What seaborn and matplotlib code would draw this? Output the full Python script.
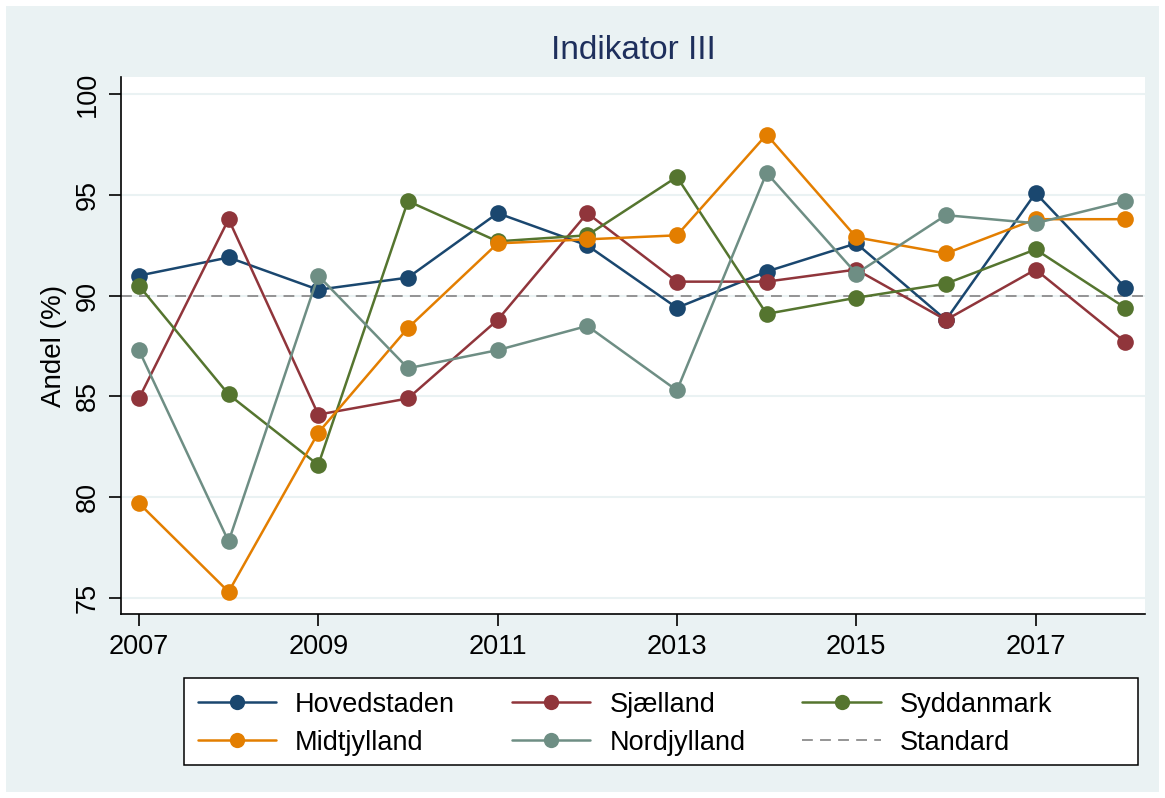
import numpy as np
import pandas as pd
import seaborn as sns
import matplotlib.pyplot as plt
from matplotlib.patches import Rectangle
from matplotlib.lines import Line2D

years = list(range(2007, 2019))
hovedstaden = [91.0, 91.9, 90.3, 90.9, 94.1, 92.5, 89.4, 91.2, 92.6, 88.8, 95.1, 90.4]
sjaelland = [84.9, 93.8, 84.1, 84.9, 88.8, 94.1, 90.7, 90.7, 91.3, 88.8, 91.3, 87.7]
syddanmark = [90.5, 85.1, 81.6, 94.7, 92.7, 93.0, 95.9, 89.1, 89.9, 90.6, 92.3, 89.4]
midtjylland = [79.7, 75.3, 83.2, 88.4, 92.6, 92.8, 93.0, 98.0, 92.9, 92.1, 93.8, 93.8]
nordjylland = [87.3, 77.8, 91.0, 86.4, 87.3, 88.5, 85.3, 96.1, 91.1, 94.0, 93.6, 94.7]
standard = 90

regions = ["Hovedstaden", "Sjælland", "Syddanmark", "Midtjylland", "Nordjylland"]
colors = ["#1a476f", "#90353b", "#55752f", "#e37e00", "#6e8e84"]

df = pd.DataFrame({
    "aar": years * 5,
    "andel": hovedstaden + sjaelland + syddanmark + midtjylland + nordjylland,
    "region": [r for r in regions for _ in years],
})

sns.set_style("white")
plt.rcParams["font.family"] = ["Liberation Sans", "DejaVu Sans"]
plt.rcParams["text.color"] = "black"
plt.rcParams["xtick.color"] = "black"
plt.rcParams["ytick.color"] = "black"
plt.rcParams["axes.labelcolor"] = "black"

fig = plt.figure(figsize=(11.65, 7.98), dpi=100, facecolor="white")
# Stata-like outer background
fig.patches.append(Rectangle((6 / 1165, 6 / 798), 1 - 12 / 1165, 1 - 12 / 798,
                             transform=fig.transFigure, facecolor="#eaf2f3",
                             edgecolor="none", zorder=-10))
# legend box, drawn separately so it can be wider than the entries
fig.patches.append(Rectangle((184 / 1165, 1 - 765 / 798), 954 / 1165, 87 / 798,
                             transform=fig.transFigure, facecolor="white",
                             edgecolor="black", linewidth=1.1, zorder=-5))
ax = fig.add_axes([121 / 1165, 1 - 614 / 798, (1145 - 121) / 1165, (614 - 77) / 798])
ax.set_facecolor("white")

sns.lineplot(data=df, x="aar", y="andel", hue="region", hue_order=regions,
             palette=colors, marker="o", markersize=12, markeredgewidth=0,
             linewidth=1.8, ax=ax, legend=False)
ax.axhline(standard, color="#8c8c8c", linestyle=(0, (6, 4)), linewidth=1.3, zorder=1.5)

ax.set_xlim(2006.8, 2018.22)
ax.set_ylim(74.2, 100.86)
ax.set_xticks(range(2007, 2019, 2))
ax.set_yticks(range(75, 101, 5))
ax.grid(axis="y", color="#eaf2f3", linewidth=1.5)
ax.set_axisbelow(True)
for s in ["top", "right"]:
    ax.spines[s].set_visible(False)
for s in ["left", "bottom"]:
    ax.spines[s].set_color("black")
    ax.spines[s].set_linewidth(1.2)
ax.tick_params(axis="both", direction="out", length=8.5, width=1.2, color="black",
               labelsize=19.5, pad=6, left=True, bottom=True)
plt.setp(ax.get_yticklabels(), rotation=90, va="center")
ax.set_xlabel("")
ax.set_ylabel("Andel (%)", fontsize=20, labelpad=6)
ax.set_title("Indikator III", fontsize=24, color="#1e2f5c", pad=13)

handles = [Line2D([], [], color=c, marker="o", markersize=11, markeredgewidth=0, linewidth=1.8)
           for c in colors]
std_handle = Line2D([], [], color="#8c8c8c", linestyle=(0, (6, 4)), linewidth=1.3)
labels = regions + ["Standard"]
allh = handles + [std_handle]
order = [0, 3, 1, 4, 2, 5]
leg = fig.legend([allh[i] for i in order], [labels[i] for i in order], ncol=3,
                 loc="upper left",
                 bbox_to_anchor=(184 / 1165, 1 - 678 / 798),
                 fontsize=19.5, handlelength=2.9, handletextpad=0.7,
                 frameon=False, borderaxespad=0, borderpad=0.5,
                 labelspacing=0.45, columnspacing=2.1)

fig.savefig("out.png", dpi=100, facecolor=fig.get_facecolor())
